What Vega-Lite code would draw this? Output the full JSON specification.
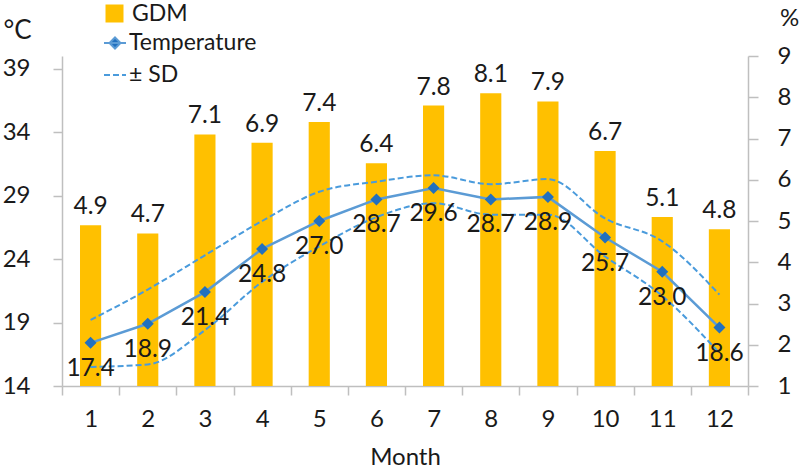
{
  "$schema": "https://vega.github.io/schema/vega-lite/v6.json",
  "width": 686,
  "height": 330,
  "autosize": "none",
  "padding": {"left": 62, "top": 56, "right": 52, "bottom": 83},
  "background": "white",
  "config": {
    "font": "Lato",
    "view": {"stroke": null},
    "axis": {
      "domainColor": "#BFBFBF",
      "tickColor": "#BFBFBF",
      "domainWidth": 1.5,
      "tickWidth": 1.5,
      "grid": false,
      "labelFont": "Lato",
      "labelFontSize": 24,
      "labelColor": "#1a1a1a",
      "titleFont": "Lato",
      "titleFontWeight": "normal",
      "titleColor": "#1a1a1a"
    },
    "legend": {
      "labelFont": "Lato",
      "labelFontSize": 23,
      "labelColor": "#1a1a1a",
      "padding": 0
    }
  },
  "data": {
    "values": [
      {"month": 1, "gdm": 4.9, "temp": 17.4, "upper": 19.2, "lower": 15.5},
      {"month": 2, "gdm": 4.7, "temp": 18.9, "upper": 21.6, "lower": 15.7},
      {"month": 3, "gdm": 7.1, "temp": 21.4, "upper": 24.3, "lower": 18.4},
      {"month": 4, "gdm": 6.9, "temp": 24.8, "upper": 27.0, "lower": 22.2},
      {"month": 5, "gdm": 7.4, "temp": 27.0, "upper": 29.3, "lower": 25.0},
      {"month": 6, "gdm": 6.4, "temp": 28.7, "upper": 30.1, "lower": 27.3},
      {"month": 7, "gdm": 7.8, "temp": 29.6, "upper": 30.6, "lower": 28.4},
      {"month": 8, "gdm": 8.1, "temp": 28.7, "upper": 29.9, "lower": 27.5},
      {"month": 9, "gdm": 7.9, "temp": 28.9, "upper": 30.3, "lower": 27.5},
      {"month": 10, "gdm": 6.7, "temp": 25.7, "upper": 27.2, "lower": 24.2},
      {"month": 11, "gdm": 5.1, "temp": 23.0, "upper": 25.4, "lower": 21.1},
      {"month": 12, "gdm": 4.8, "temp": 18.6, "upper": 21.2, "lower": 16.6}
    ]
  },
  "encoding": {
    "x": {
      "field": "month",
      "type": "ordinal",
      "scale": {"paddingInner": 0, "paddingOuter": 0},
      "axis": {
        "title": "Month",
        "titleFontSize": 24,
        "titleY": 71,
        "titleBaseline": "middle",
        "labelAngle": 0,
        "tickBand": "extent",
        "tickSize": 9,
        "labelPadding": 12
      }
    }
  },
  "layer": [
    {
      "layer": [
        {
          "mark": {"type": "bar", "width": {"band": 0.37}, "color": "#FFC000"},
          "encoding": {
            "y": {
              "field": "gdm",
              "type": "quantitative",
              "scale": {"domain": [1, 9], "zero": false, "nice": false},
              "axis": {
                "orient": "right",
                "title": "%",
                "titleAngle": 0,
                "titleX": 41,
                "titleY": -38,
                "titleAlign": "center",
                "titleBaseline": "middle",
                "titleFontSize": 24,
                "values": [1, 2, 3, 4, 5, 6, 7, 8, 9],
                "tickSize": 10,
                "labelPadding": 19
              }
            },
            "y2": {"datum": 1},
            "fill": {
              "datum": "GDM",
              "scale": {"range": ["#FFC000"]},
              "legend": {
                "title": null,
                "orient": "none",
                "legendX": 41,
                "legendY": -54,
                "symbolType": "square",
                "symbolSize": 324,
                "symbolStrokeWidth": 0,
                "labelOffset": 6
              }
            }
          }
        },
        {
          "mark": {"type": "text", "baseline": "alphabetic", "dy": -11, "fontSize": 24.5, "color": "#1a1a1a", "font": "Lato"},
          "encoding": {
            "y": {"field": "gdm", "type": "quantitative", "scale": {"domain": [1, 9], "zero": false, "nice": false}},
            "text": {"field": "gdm", "type": "quantitative", "format": ".1f"}
          }
        }
      ]
    },
    {
      "layer": [
        {
          "transform": [{"fold": ["upper", "lower"], "as": ["bound", "value"]}],
          "mark": {"type": "line", "color": "#4A9BDC", "strokeWidth": 2, "interpolate": "monotone"},
          "encoding": {
            "y": {
              "field": "value",
              "type": "quantitative",
              "scale": {"domain": [14, 40], "zero": false, "nice": false},
              "axis": {
                "orient": "left",
                "title": "°C",
                "titleAngle": 0,
                "titleX": -45,
                "titleY": -26,
                "titleAlign": "center",
                "titleBaseline": "middle",
                "titleFontSize": 26,
                "values": [14, 19, 24, 29, 34, 39],
                "tickSize": 9,
                "labelPadding": 23
              }
            },
            "detail": {"field": "bound"},
            "strokeDash": {
              "datum": "± SD",
              "scale": {"range": [[6, 3]]},
              "legend": {
                "title": null,
                "orient": "none",
                "legendX": 41,
                "legendY": 7,
                "symbolType": "stroke",
                "symbolSize": 484,
                "symbolStrokeColor": "#4A9BDC",
                "symbolStrokeWidth": 2,
                "labelOffset": 2
              }
            }
          }
        },
        {
          "mark": {"type": "line", "strokeWidth": 2.5},
          "encoding": {
            "y": {"field": "temp", "type": "quantitative"},
            "stroke": {
              "datum": "Temperature",
              "scale": {"range": ["#5B9BD5"]},
              "legend": {
                "title": null,
                "orient": "none",
                "legendX": 41,
                "legendY": -25,
                "symbolType": "M-1,0H1M0,-0.5L0.5,0L0,0.5L-0.5,0Z",
                "symbolSize": 484,
                "symbolStrokeWidth": 2,
                "labelOffset": 2,
                "encode": {"symbols": {"update": {"fill": {"value": "#2270BE"}}}}
              }
            }
          }
        },
        {
          "mark": {"type": "point", "shape": "diamond", "size": 144, "filled": true, "color": "#2270BE", "opacity": 1},
          "encoding": {"y": {"field": "temp", "type": "quantitative"}}
        },
        {
          "mark": {"type": "text", "baseline": "middle", "dy": 26, "fontSize": 24.5, "color": "#1a1a1a", "font": "Lato"},
          "encoding": {
            "y": {"field": "temp", "type": "quantitative"},
            "text": {"field": "temp", "type": "quantitative", "format": ".1f"}
          }
        }
      ]
    }
  ],
  "resolve": {"scale": {"y": "independent"}}
}
